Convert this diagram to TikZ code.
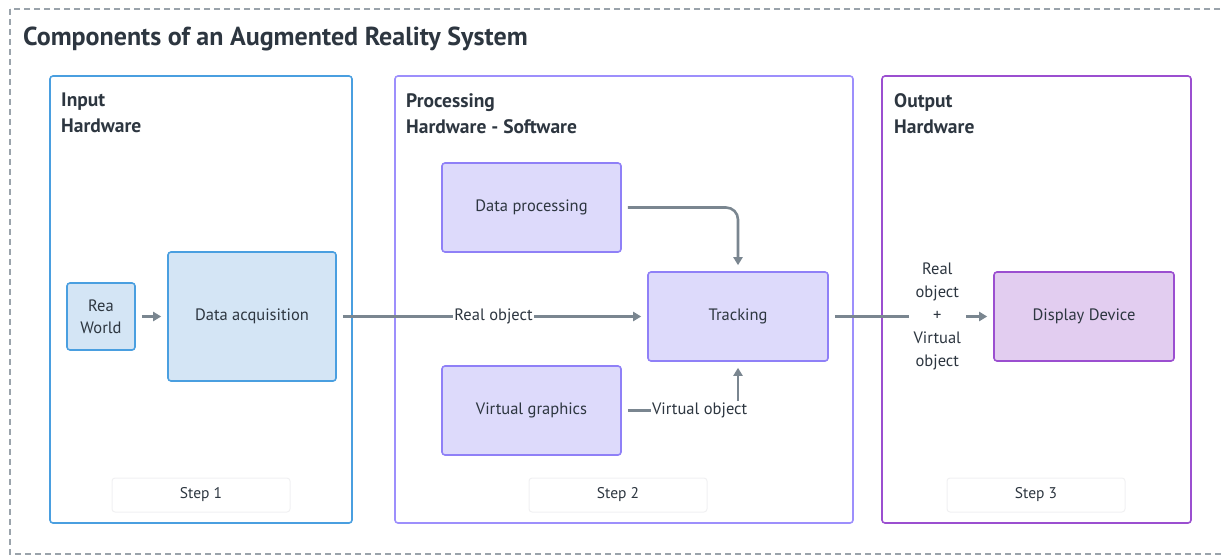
\documentclass[tikz,border=0pt]{standalone}
\usepackage{fontspec}
\setmainfont{PT Sans}
\usetikzlibrary{arrows.meta}
\definecolor{txt}{HTML}{2D3640}
\definecolor{arr}{HTML}{7A8690}
\definecolor{frame}{HTML}{9AA3AB}
\definecolor{blueB}{HTML}{4A9FE0}
\definecolor{blueF}{HTML}{D4E5F5}
\definecolor{purB}{HTML}{8F80F7}
\definecolor{purC}{HTML}{9D8FFC}
\definecolor{purF}{HTML}{DDDAFB}
\definecolor{vioB}{HTML}{9B4FD0}
\definecolor{vioF}{HTML}{E2CDF0}
\definecolor{stepB}{HTML}{F0F0F2}
\tikzset{
  container/.style={draw, line width=1.6pt, rounded corners=3pt, inner sep=0pt},
  box/.style={draw, line width=1.6pt, rounded corners=3pt, inner sep=2pt, align=center,
    text=txt, font=\fontsize{16.5}{22}\selectfont},
  heading/.style={anchor=north west, align=left, inner sep=0pt, text=txt,
    font=\fontsize{19.5}{26}\selectfont\bfseries},
  steplbl/.style={draw=stepB, line width=1pt, rounded corners=3pt, minimum width=178pt,
    minimum height=34pt, text=txt, font=\fontsize{15.5}{16}\selectfont},
  conn/.style={draw=arr, line width=2.6pt, -{Triangle[length=8pt,width=9pt]},
    shorten <=6pt, shorten >=6pt},
  lbl/.style={fill=white, text=txt, inner sep=1.5pt, align=center,
    font=\fontsize{16.5}{23}\selectfont},
}
\begin{document}
\begin{tikzpicture}[x=1pt,y=-1pt]
\useasboundingbox (0,0) rectangle (1223,557);
\draw[frame, line width=1.4pt, dash pattern=on 6pt off 4pt] (10,9) rectangle (1240,554);
\node[anchor=west, inner sep=0pt, text=txt, font=\fontsize{26}{30}\selectfont\bfseries] (title) at (23,39) {Components of an Augmented Reality System};

% containers
\node[container, draw=blueB, minimum width=302pt, minimum height=447pt] (s1) at (201,299.5) {};
\node[container, draw=purC, minimum width=458pt, minimum height=447pt] (s2) at (624,299.5) {};
\node[container, draw=vioB, minimum width=309pt, minimum height=447pt] (s3) at (1036.5,299.5) {};

\node[heading] (h1) at (61,93) {Input\\Hardware};
\node[heading] (h2) at (406,93) {Processing\\Hardware - Software};
\node[heading] (h3) at (894,93) {Output\\Hardware};

\node[steplbl] (st1) at (201,495) {Step 1};
\node[steplbl] (st2) at (618,495) {Step 2};
\node[steplbl] (st3) at (1036,495) {Step 3};

% boxes
\node[box, draw=blueB, fill=blueF, minimum width=68pt, minimum height=67pt] (rw) at (101,316.5) {Rea\\World};
\node[box, draw=blueB, fill=blueF, minimum width=168pt, minimum height=129pt] (da) at (252,316.5) {Data acquisition};
\node[box, draw=purB, fill=purF, minimum width=179pt, minimum height=89pt] (dp) at (531.5,207.5) {Data processing};
\node[box, draw=purB, fill=purF, minimum width=180pt, minimum height=89pt] (tr) at (738,316.5) {Tracking};
\node[box, draw=purB, fill=purF, minimum width=179pt, minimum height=89pt] (vg) at (531.5,410.5) {Virtual graphics};
\node[box, draw=vioB, fill=vioF, minimum width=180pt, minimum height=89pt] (dd) at (1084,316.5) {Display Device};

% connectors
\draw[conn] (rw) -- (da);
\draw[conn] (da) -- node[lbl, pos=0.505] {Real object} (tr);
\draw[conn, rounded corners=12pt] (dp.east) -| (tr.north);
\draw[conn] (vg.east) -| node[lbl, pos=0.335] {Virtual object} (tr.south);
\draw[conn] (tr) -- node[lbl, pos=0.66, inner xsep=5pt] {Real\\object\\+\\Virtual\\object} (dd);
\end{tikzpicture}
\end{document}
